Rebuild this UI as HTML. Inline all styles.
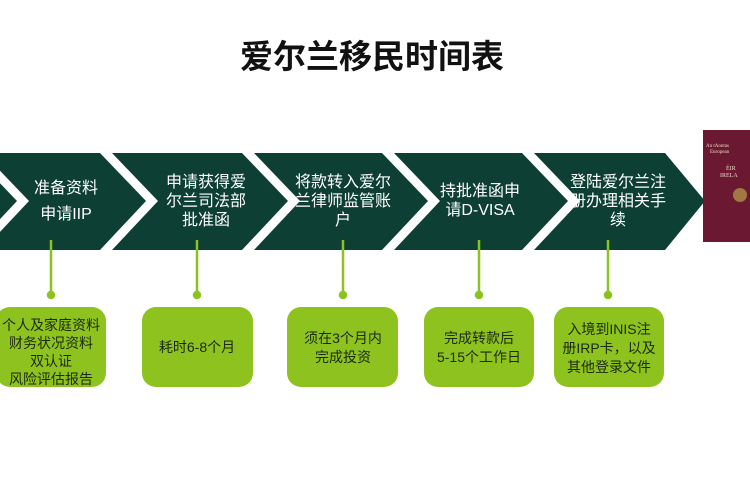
<!DOCTYPE html>
<html><head><meta charset="utf-8"><style>
body{margin:0;width:750px;height:500px;background:#fff;overflow:hidden;font-family:"Liberation Sans","Noto Sans CJK SC",sans-serif}
</style></head><body>
<svg width="750" height="500" xmlns="http://www.w3.org/2000/svg" style="position:absolute;left:0;top:0">
<text x="372" y="68" text-anchor="middle" font-size="33" font-weight="bold" fill="#111" font-family="Liberation Sans,Noto Sans CJK SC,sans-serif">爱尔兰移民时间表</text>
<g fill="#0d3f34">
<polygon points="-80,153 -29,153 17,201 -29,250 -80,250"/>
<polygon points="-17,153 100,153 146,201 100,250 -17,250 29,201"/>
<polygon points="112,153 242,153 288,201 242,250 112,250 158,201"/>
<polygon points="254,153 382,153 428,201 382,250 254,250 300,201"/>
<polygon points="394,153 522,153 568,201 522,250 394,250 440,201"/>
<polygon points="534,153 665,153 705,201 665,250 534,250 580,201"/>
</g>
<rect x="703" y="130" width="50" height="112" fill="#6b1832"/>
<text x="706" y="147" font-size="5" fill="#e8d8c0" font-family="Liberation Serif,serif">An tAontas</text>
<text x="710" y="153" font-size="5" fill="#e8d8c0" font-family="Liberation Serif,serif">European</text>
<text x="726" y="170" font-size="6" fill="#e8d8c0" font-family="Liberation Serif,serif">ÉIR</text>
<text x="720" y="177" font-size="6" fill="#e8d8c0" font-family="Liberation Serif,serif">IRELA</text>
<circle cx="740" cy="195" r="7" fill="#a07840"/>
<g fill="#fff" font-size="16" text-anchor="middle" font-family="Liberation Sans,Noto Sans CJK SC,sans-serif">
<text x="66" y="193">准备资料</text><text x="66" y="219">申请IIP</text>
<text x="206" y="187">申请获得爱</text><text x="206" y="206">尔兰司法部</text><text x="206" y="225">批准函</text>
<text x="343" y="187">将款转入爱尔</text><text x="343" y="206">兰律师监管账</text><text x="343" y="225">户</text>
<text x="480" y="196">持批准函申</text><text x="480" y="215">请D-VISA</text>
<text x="618" y="187">登陆爱尔兰注</text><text x="618" y="206">册办理相关手</text><text x="618" y="225">续</text>
</g>
<g stroke="#8dc21f" stroke-width="2.5" fill="#8dc21f">
<line x1="51" y1="240" x2="51" y2="295"/><circle cx="51" cy="295" r="3"/>
<line x1="197" y1="240" x2="197" y2="295"/><circle cx="197" cy="295" r="3"/>
<line x1="343" y1="240" x2="343" y2="295"/><circle cx="343" cy="295" r="3"/>
<line x1="479" y1="240" x2="479" y2="295"/><circle cx="479" cy="295" r="3"/>
<line x1="608" y1="240" x2="608" y2="295"/><circle cx="608" cy="295" r="3"/>
</g>
<g fill="#8dc21f">
<rect x="-4" y="307" width="110" height="80" rx="14"/>
<rect x="142" y="307" width="111" height="80" rx="14"/>
<rect x="287" y="307" width="111" height="80" rx="14"/>
<rect x="424" y="307" width="110" height="80" rx="14"/>
<rect x="554" y="307" width="110" height="80" rx="14"/>
</g>
<g fill="#1c2a10" font-size="14" text-anchor="middle" font-family="Liberation Sans,Noto Sans CJK SC,sans-serif">
<text x="51" y="330">个人及家庭资料</text><text x="51" y="348">财务状况资料</text><text x="51" y="366">双认证</text><text x="51" y="384">风险评估报告</text>
<text x="197" y="352">耗时6-8个月</text>
<text x="343" y="343">须在3个月内</text><text x="343" y="362">完成投资</text>
<text x="479" y="343">完成转款后</text><text x="479" y="362">5-15个工作日</text>
<text x="609" y="334">入境到INIS注</text><text x="609" y="353">册IRP卡，以及</text><text x="609" y="372">其他登录文件</text>
</g>
</svg>
</body></html>
